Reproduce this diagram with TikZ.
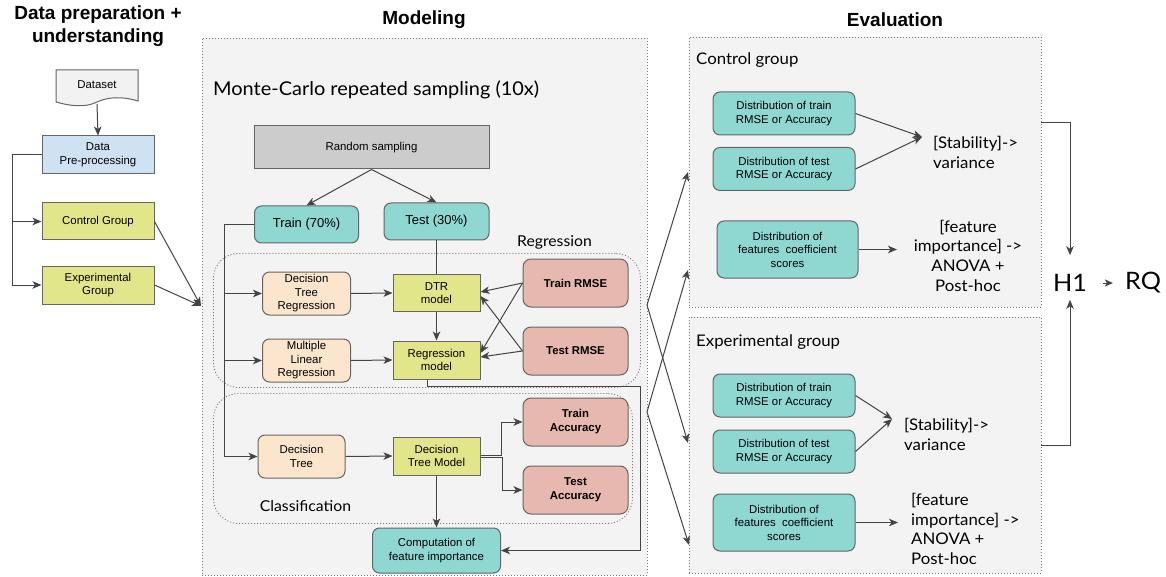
\documentclass[tikz,border=0pt]{standalone}
\usepackage{fontspec}
\setmainfont{Liberation Sans}
\newfontfamily\nun[FakeStretch=1.05]{Lato}
\usetikzlibrary{arrows.meta}
\definecolor{tealc}{HTML}{8ED8D1}
\definecolor{orangec}{HTML}{FCE5CD}
\definecolor{yellowc}{HTML}{E2E68A}
\definecolor{redc}{HTML}{E6B8AF}
\definecolor{bluec}{HTML}{CFE2F3}
\definecolor{grayc}{HTML}{CCCCCC}
\definecolor{docc}{HTML}{F2F2F2}
\definecolor{bgc}{HTML}{F3F3F3}
\definecolor{bstroke}{HTML}{666666}
\definecolor{linec}{HTML}{444444}
\definecolor{dotc}{HTML}{777777}
\newcommand\myfs[2]{\fontsize{#1}{#2}\selectfont}
\tikzset{
 base/.style={draw=bstroke, line width=1pt, align=center, inner sep=1pt, font=\myfs{11.4}{13.5}, text=black},
 tbox/.style={base, fill=tealc, rounded corners=7pt},
 obox/.style={base, fill=orangec, rounded corners=7pt},
 ybox/.style={base, fill=yellowc},
 rbox/.style={base, fill=redc, rounded corners=8pt, font=\myfs{11.4}{14}\bfseries},
 dotbox/.style={draw=dotc, line width=0.9pt, dash pattern=on 1pt off 2pt, fill=bgc},
 arr/.style={draw=linec, line width=1pt, -{Stealth[length=9pt,width=7.5pt,inset=2.5pt]}},
 ln/.style={draw=linec, line width=1pt},
 big/.style={font=\nun\myfs{16}{20}, inner sep=0pt, text=black},
 head/.style={font=\bfseries\myfs{19}{23}, align=center, inner sep=0pt, text=black},
}
\begin{document}
\begin{tikzpicture}[x=1pt,y=-1pt]
\useasboundingbox (0,0) rectangle (1166,577);
\fill[white] (0,0) rectangle (1166,577);

% headings
\node[head] (hdata) at (98,26) {Data preparation +\\understanding};
\node[head] (hmodel) at (424,20) {Modeling};
\node[head] (heval) at (895,20) {Evaluation};

% background boxes
\node[dotbox, anchor=north west, minimum width=445, minimum height=537, inner sep=0] (modelbox) at (202,38) {};
\node[dotbox, anchor=north west, minimum width=352, minimum height=270, inner sep=0] (ctrlbox) at (689,37) {};
\node[dotbox, anchor=north west, minimum width=352, minimum height=256, inner sep=0] (expbox) at (689,317) {};
\node[dotbox, fill=none, rounded corners=25pt, anchor=north west, minimum width=427, minimum height=134, inner sep=0] (regbox) at (213,253) {};
\node[dotbox, fill=none, rounded corners=25pt, anchor=north west, minimum width=419, minimum height=130, inner sep=0] (clsbox) at (213,393) {};

% left column
\draw[draw=bstroke, line width=1pt, fill=docc] (56,70) -- (138,70) -- (138,101) .. controls (121,96) and (108,97) .. (97,102) .. controls (85,108) and (70,106) .. (56,102) -- cycle;
\node[font=\myfs{11.4}{13.5}, inner sep=1pt] (dataset) at (97,85) {Dataset};
\node[base, fill=bluec, minimum width=112, minimum height=38] (pre) at (98,155) {Data\\Pre-processing};
\node[ybox, minimum width=112, minimum height=37] (ctrl) at (98,221.5) {Control Group};
\node[ybox, minimum width=112, minimum height=38] (exp) at (98,285) {Experimental\\Group};
\coordinate (dsb) at (97,104);
\draw[arr] (dsb) -- (pre.north);
\coordinate (lb) at (12,155);
\draw[ln] (pre.west) -- (lb);
\draw[arr] (lb) |- (ctrl.west);
\draw[arr] (lb) |- (exp.west);
\coordinate (min) at (201,306);
\draw[arr] (ctrl.east) -- (min);
\draw[arr] (exp.east) -- (min);

% modeling
\node[big, font=\nun\myfs{19}{23}, anchor=west] (mc) at (213,90) {Monte-Carlo repeated sampling (10x)};
\node[base, fill=grayc, minimum width=235, minimum height=43] (rs) at (371.5,147.5) {Random sampling};
\node[tbox, minimum width=104, minimum height=37, font=\myfs{13}{15}] (train) at (306.5,224.5) {Train (70\%)};
\node[tbox, minimum width=105, minimum height=37, font=\myfs{13}{15}] (test) at (436.5,221.5) {Test (30\%)};
\node[big, font=\nun\myfs{15}{18}] (reglab) at (554.5,242) {Regression};
\node[big, font=\nun\myfs{15}{18}] (clslab) at (305.5,506) {Classification};

\node[obox, minimum width=88, minimum height=43] (dtr) at (306.5,293.5) {Decision\\Tree\\Regression};
\node[obox, minimum width=88, minimum height=43] (mlr) at (306.5,360.5) {Multiple\\Linear\\Regression};
\node[obox, minimum width=87, minimum height=43] (dt) at (301.5,456.5) {Decision\\Tree};
\node[ybox, minimum width=87, minimum height=37] (dtrm) at (436.5,293) {DTR\\model};
\node[ybox, minimum width=87, minimum height=38] (regm) at (436.5,360) {Regression\\model};
\node[ybox, minimum width=87, minimum height=38] (dtm) at (436.5,456) {Decision\\Tree Model};
\node[rbox, minimum width=105, minimum height=48] (trmse) at (575.5,283) {Train RMSE};
\node[rbox, minimum width=105, minimum height=48] (tsrmse) at (575.5,351) {Test RMSE};
\node[rbox, minimum width=105, minimum height=48] (tracc) at (575.5,422) {Train\\Accuracy};
\node[rbox, minimum width=105, minimum height=48] (tsacc) at (575.5,490) {Test\\Accuracy};
\node[tbox, minimum width=128, minimum height=45, font=\myfs{11.4}{14}] (comp) at (436.5,550.5) {Computation of\\feature importance};

\draw[arr] (rs.south) -- (train.north);
\draw[arr] (rs.south) -- (test.north);
\coordinate (tl) at (224,224.5);
\draw[ln] (train.west) -- (tl);
\draw[arr] (tl) |- (dtr.west);
\draw[arr] (tl) |- (mlr.west);
\draw[arr] (tl) |- (dt.west);
\draw[ln] (test.south) -- (dtrm.north);
\draw[arr] (dtr.east) -- (dtrm.west);
\draw[arr] (mlr.east) -- (regm.west);
\draw[arr] (dt.east) -- (dtm.west);
\draw[arr] (dtrm.south) -- (regm.north);
\draw[arr] (trmse.west) -- ([yshift=1pt]dtrm.east);
\draw[arr] (trmse.west) -- ([yshift=7pt]regm.east);
\draw[arr] (tsrmse.west) -- ([yshift=-3pt]dtrm.east);
\draw[arr] (tsrmse.west) -- ([yshift=3pt]regm.east);
\draw[arr] ([yshift=1pt]dtm.east) -- ++(21,0) |- (tracc.west);
\draw[arr] ([yshift=-1pt]dtm.east) -- ++(22,0) |- (tsacc.west);
\draw[arr] (dtm.south) -- (comp.north);
\coordinate (cr) at (640,386);
\draw[arr] ([xshift=-9pt]regm.south) |- (cr) |- (comp.east);

% modeling -> evaluation
\coordinate (o1) at (647,305);
\coordinate (o2) at (647,412);
\coordinate (e1) at (688,172);
\coordinate (e2) at (688,270);
\coordinate (e3) at (688,443);
\coordinate (e4) at (689,545);
\draw[arr] (o1) -- (e1);
\draw[arr] (o1) -- (e3);
\draw[arr] (o2) -- (e2);
\draw[arr] (o2) -- (e4);

% evaluation - control
\node[big, anchor=west] (cglab) at (696,60) {Control group};
\node[tbox, minimum width=142, minimum height=43] (d1) at (784,113.5) {Distribution of train\\RMSE or Accuracy};
\node[tbox, minimum width=142, minimum height=43] (d2) at (784,169) {Distribution of test\\RMSE or Accuracy};
\node[tbox, minimum width=141, minimum height=57] (f1) at (787.5,249.5) {Distribution of\\features\ \ coefficient\\scores};
\coordinate (s1) at (922,137);
\draw[arr] (d1.east) -- (s1);
\draw[arr] (d2.east) -- (s1);
\node[big, anchor=west, align=left] (stab1) at (933,152) {[Stability]->\\variance};
\coordinate (fe1) at (897,249.5);
\draw[arr] (f1.east) -- (fe1);
\node[big, align=center, font=\nun\myfs{16}{19.7}] (fi1) at (968,255.5) {[feature\\importance] ->\\ANOVA +\\Post-hoc};

% evaluation - experimental
\node[big, anchor=west] (eglab) at (696,342) {Experimental group};
\node[tbox, minimum width=142, minimum height=43] (d3) at (784,395.5) {Distribution of train\\RMSE or Accuracy};
\node[tbox, minimum width=142, minimum height=43] (d4) at (784,451.5) {Distribution of test\\RMSE or Accuracy};
\node[tbox, minimum width=142, minimum height=57] (f2) at (784,522.5) {Distribution of\\features\ \ coefficient\\scores};
\coordinate (s2) at (892,419);
\draw[arr] (d3.east) -- (s2);
\draw[arr] (d4.east) -- (s2);
\node[big, anchor=west, align=left] (stab2) at (904,434.5) {[Stability]->\\variance};
\coordinate (fe2) at (898,522.5);
\draw[arr] (f2.east) -- (fe2);
\node[big, anchor=west, align=left, font=\nun\myfs{16}{19.4}] (fi2) at (911,529) {[feature\\importance] ->\\ANOVA +\\Post-hoc};

% H1 / RQ
\node[big, font=\nun\myfs{24}{28}] (h1) at (1070,283) {H1};
\node[big, font=\nun\myfs{24}{28}] (rq) at (1143,283) {RQ};
\coordinate (c1) at (1041,123);
\coordinate (c2) at (1041,445);
\draw[arr, shorten >=19pt] (c1) -| (h1.north);
\draw[arr, shorten >=8pt] (c2) -| (h1.south);
\draw[draw=linec, line width=1pt, -{Stealth[length=8pt,width=7pt,inset=2pt]}, shorten <=16pt, shorten >=12pt] (h1.east) -- (rq.west);
\end{tikzpicture}
\end{document}
